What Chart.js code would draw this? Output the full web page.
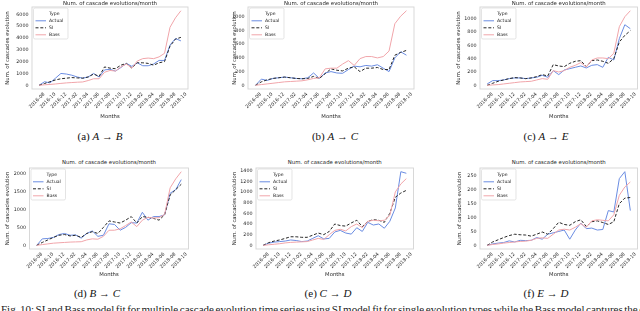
<!DOCTYPE html>
<html lang="en">
<head>
<meta charset="UTF-8" />
<title>Num. of cascade evolutions/month</title>
<script src="https://cdn.jsdelivr.net/npm/chart.js"></script>
<style>
  body { margin: 0; width: 640px; height: 311px; overflow: hidden; background: #fff; position: relative; }
  canvas { position: absolute; }
  .title { position: absolute; text-align: center; font-family: "DejaVu Sans"; font-size: 5.4px; line-height: 6px; color: #262626; white-space: nowrap; }
  .caption { position: absolute; font-family: "Liberation Serif", serif; font-size: 11px; line-height: 12px; white-space: nowrap; transform: translateX(-50%); color: #111; }
  .figtext { position: absolute; left: 1px; top: 303px; font-family: "Liberation Serif", serif; font-size: 11px; line-height: 12px; white-space: nowrap; color: #222; }
</style>
</head>
<body>
<div class="figtext" id="figtext">Fig. 10: SI and Bass model fit for multiple cascade evolution time series using SI model fit for single evolution types while the Bass model captures the d</div>

<script>
  // months of the series (2016-08 .. 2018-10), labelled every other month
  const months = ['2016-08', '2016-09', '2016-10', '2016-11', '2016-12', '2017-01', '2017-02', '2017-03', '2017-04',
    '2017-05', '2017-06', '2017-07', '2017-08', '2017-09', '2017-10', '2017-11', '2017-12', '2018-01', '2018-02',
    '2018-03', '2018-04', '2018-05', '2018-06', '2018-07', '2018-08', '2018-09', '2018-10'];
  const seriesNames = ['Actual', 'SI', 'Bass'];
  const legendTitle = 'Type';

  // (a) A -> B
  const abActual = [0, 300, 200, 600, 1000, 950, 850, 700, 600, 700, 1000, 700, 1300, 1350, 1200, 1500, 1850, 1600, 1900, 1650, 1650, 1800, 2100, 2100, 3400, 3950, 3750];
  const abSI = [0, 150, 300, 450, 550, 600, 650, 620, 600, 700, 950, 750, 1550, 1450, 1400, 1700, 1850, 1450, 1900, 1900, 1850, 1700, 1900, 2000, 3300, 3900, 4050];
  const abBass = [0, 40, 70, 110, 160, 200, 230, 260, 280, 400, 550, 550, 1100, 1250, 1200, 1550, 1800, 1450, 2050, 2250, 2300, 2250, 2400, 2700, 4900, 5700, 6300];

  // (b) A -> C
  const acActual = [0, 90, 70, 100, 110, 120, 110, 100, 95, 110, 180, 100, 180, 200, 180, 175, 230, 280, 270, 290, 280, 300, 250, 200, 400, 490, 440];
  const acSI = [0, 50, 80, 100, 110, 120, 110, 100, 95, 100, 130, 100, 170, 240, 220, 210, 250, 270, 200, 250, 250, 260, 230, 230, 440, 480, 510];
  const acBass = [0, 10, 20, 30, 40, 50, 55, 60, 65, 80, 100, 110, 240, 250, 250, 310, 360, 290, 390, 420, 420, 400, 420, 500, 900, 1010, 1090];

  // (c) A -> E
  const aeActual = [20, 70, 70, 80, 100, 110, 110, 100, 110, 120, 150, 120, 220, 160, 230, 250, 270, 290, 260, 300, 310, 270, 420, 380, 700, 910, 850];
  const aeSI = [0, 30, 60, 80, 100, 115, 110, 100, 110, 130, 160, 140, 310, 290, 280, 330, 360, 370, 280, 370, 380, 360, 330, 400, 650, 750, 820];
  const aeBass = [0, 5, 10, 20, 30, 40, 50, 55, 60, 80, 100, 90, 220, 200, 220, 270, 300, 340, 275, 380, 410, 410, 400, 480, 880, 1030, 1120];

  // (d) B -> C
  const bcActual = [0, 180, 190, 220, 300, 330, 280, 290, 200, 330, 400, 250, 280, 600, 580, 420, 500, 630, 620, 920, 700, 800, 800, 850, 1450, 1550, 1830];
  const bcSI = [0, 80, 150, 220, 280, 300, 260, 280, 220, 330, 380, 330, 500, 680, 650, 620, 700, 800, 620, 800, 780, 750, 700, 850, 1400, 1550, 1700];
  const bcBass = [0, 20, 40, 60, 70, 80, 90, 95, 100, 150, 180, 170, 250, 420, 420, 460, 550, 650, 520, 700, 780, 760, 770, 860, 1600, 1850, 2050];

  // (e) C -> D
  const cdActual = [0, 40, 60, 70, 80, 100, 90, 70, 80, 130, 180, 120, 130, 250, 280, 230, 210, 330, 260, 430, 380, 400, 320, 450, 700, 1380, 1350];
  const cdSI = [0, 50, 80, 100, 130, 160, 160, 150, 150, 190, 230, 200, 260, 400, 370, 360, 420, 470, 350, 450, 480, 470, 430, 600, 900, 980, 1030];
  const cdBass = [0, 10, 20, 30, 45, 55, 60, 65, 70, 100, 130, 110, 200, 280, 300, 270, 350, 400, 330, 450, 470, 460, 470, 560, 1000, 1150, 1250];

  // (f) E -> D
  const edActual = [0, 5, 8, 10, 16, 12, 18, 17, 18, 28, 22, 40, 45, 50, 55, 22, 55, 80, 60, 62, 55, 57, 125, 120, 240, 265, 125];
  const edSI = [0, 12, 20, 28, 35, 40, 38, 37, 33, 40, 48, 40, 60, 83, 75, 72, 85, 92, 68, 85, 88, 82, 75, 85, 150, 170, 172];
  const edBass = [0, 3, 5, 8, 10, 12, 14, 15, 18, 25, 27, 25, 40, 55, 58, 55, 65, 78, 65, 88, 92, 90, 88, 110, 180, 210, 228];

  const yStep = { ab: 1000, ac: 200, ae: 200, bc: 500, cd: 200, ed: 50 };

  const panels = [
    { key: 'ab', tag: 'a', from: 'A', to: 'B', series: [abActual, abSI, abBass], frame: [32, 7, 188, 89], yLabelX: 8, monthsY: 116, titleY: 3.3, capX: 100, capY: 136 },
    { key: 'ac', tag: 'b', from: 'A', to: 'C', series: [acActual, acSI, acBass], frame: [248, 7, 414, 89], yLabelX: 234.3, monthsY: 116, titleY: 3.3, capX: 335, capY: 136 },
    { key: 'ae', tag: 'c', from: 'A', to: 'E', series: [aeActual, aeSI, aeBass], frame: [480, 7, 637.5, 89], yLabelX: 458.3, monthsY: 116, titleY: 3.3, capX: 546, capY: 136 },
    { key: 'bc', tag: 'd', from: 'B', to: 'C', series: [bcActual, bcSI, bcBass], frame: [29.5, 168, 188.5, 249], yLabelX: 7.5, monthsY: 274.3, titleY: 161.7, capX: 97, capY: 293 },
    { key: 'cd', tag: 'e', from: 'C', to: 'D', series: [cdActual, cdSI, cdBass], frame: [256, 168, 413.5, 249], yLabelX: 234.3, monthsY: 274.3, titleY: 161.7, capX: 328, capY: 293 },
    { key: 'ed', tag: 'f', from: 'E', to: 'D', series: [edActual, edSI, edBass], frame: [480, 168, 637.5, 249], yLabelX: 460, monthsY: 274.3, titleY: 161.7, capX: 546, capY: 293 }
  ];

  const styles = [
    { borderColor: '#6a8ce2', borderDash: [], order: 3 },
    { borderColor: '#262626', borderDash: [3, 1.8], order: 2 },
    { borderColor: '#f1a5aa', borderDash: [], order: 1 }
  ];

  const txt = '#262626';
  const tickFont = { family: 'DejaVu Sans', size: 4.8 };
  const labelFont = { family: 'DejaVu Sans', size: 5.3 };

  // light grey box round the plot area
  const framePlugin = {
    id: 'frame',
    beforeDatasetsDraw(chart) {
      const { ctx, chartArea: a } = chart;
      ctx.save();
      ctx.strokeStyle = '#d4d4d4';
      ctx.lineWidth = 0.9;
      ctx.strokeRect(a.left, a.top, a.right - a.left, a.bottom - a.top);
      ctx.restore();
    }
  };

  // seaborn-like legend: "Type" header then one row per series
  const boxLegend = {
    id: 'boxLegend',
    afterDatasetsDraw(chart) {
      const { ctx, chartArea: a } = chart;
      const x = a.left + 1.5, y = a.top + 1, w = 34.5, h = 31, row = 7;
      ctx.save();
      ctx.beginPath();
      ctx.roundRect(x, y, w, h, 1.5);
      ctx.fillStyle = 'rgba(255,255,255,0.85)';
      ctx.fill();
      ctx.strokeStyle = '#d8d8d8';
      ctx.lineWidth = 0.7;
      ctx.stroke();
      ctx.font = '4.6px "DejaVu Sans"';
      ctx.textBaseline = 'middle';
      ctx.fillStyle = txt;
      ctx.fillText(legendTitle, x + 15.5, y + 5.8);
      chart.data.datasets.forEach((ds, i) => {
        const cy = y + 5.8 + row * (i + 1);
        ctx.beginPath();
        ctx.setLineDash(ds.borderDash || []);
        ctx.strokeStyle = ds.borderColor;
        ctx.lineWidth = ds.borderWidth;
        ctx.moveTo(x + 2, cy);
        ctx.lineTo(x + 12.5, cy);
        ctx.stroke();
        ctx.setLineDash([]);
        ctx.fillText(ds.label, x + 15.5, cy);
      });
      ctx.restore();
    }
  };

  panels.forEach(p => {
    const [l, t, r, b] = p.frame;
    const cl = Math.floor(p.yLabelX - 3.2), ct = Math.floor(t - 2);
    const cw = Math.ceil(r + 2 - cl), ch = Math.ceil(p.monthsY + 3.2 - ct);
    const yw = l - cl, padTop = t - ct, padRight = cl + cw - r, xh = ct + ch - b;

    const canvas = document.createElement('canvas');
    canvas.width = cw;
    canvas.height = ch;
    canvas.style.left = cl + 'px';
    canvas.style.top = ct + 'px';
    document.body.appendChild(canvas);

    const all = p.series.flat();
    const lo = Math.min(...all), hi = Math.max(...all);
    const span = hi - lo;
    const step = yStep[p.key];

    new Chart(canvas, {
      type: 'line',
      data: {
        datasets: p.series.map((vals, i) => ({
          label: seriesNames[i],
          data: vals.map((v, k) => ({ x: k, y: v })),
          borderColor: styles[i].borderColor,
          borderDash: styles[i].borderDash,
          order: styles[i].order,
          borderWidth: 1,
          pointRadius: 0,
          tension: 0,
          fill: false
        }))
      },
      options: {
        responsive: false,
        animation: false,
        devicePixelRatio: 1,
        layout: { padding: { top: padTop, right: padRight, left: 0, bottom: 0 } },
        plugins: { legend: { display: false }, tooltip: { enabled: false } },
        scales: {
          x: {
            type: 'linear',
            min: -0.05 * (months.length - 1),
            max: (months.length - 1) * 1.05,
            grid: { display: false, drawTicks: false },
            border: { display: false },
            ticks: {
              autoSkip: false, minRotation: 45, maxRotation: 45, padding: 2.5, labelOffset: 5,
              font: tickFont, color: txt,
              callback: v => months[v]
            },
            afterBuildTicks: s => { s.ticks = months.map((m, i) => ({ value: i })).filter(tk => tk.value % 2 === 0); },
            afterFit: s => { s.height = xh; s.paddingLeft = 0; s.paddingRight = 0; },
            title: { display: true, text: 'Months', font: labelFont, color: txt, padding: 0 }
          },
          y: {
            min: lo - 0.05 * span,
            max: hi + 0.05 * span,
            grid: { display: false, drawTicks: false },
            border: { display: false },
            ticks: { padding: 3.5, font: tickFont, color: txt, callback: v => String(v) },
            afterBuildTicks: s => {
              const tk = [];
              for (let v = 0; v <= s.max; v += step) tk.push({ value: v });
              s.ticks = tk;
            },
            afterFit: s => { s.width = yw; s.paddingTop = 0; s.paddingBottom = 0; },
            title: { display: true, text: 'Num. of cascades evolution', font: labelFont, color: txt, padding: 0 }
          }
        }
      },
      plugins: [framePlugin, boxLegend]
    });

    const title = document.createElement('div');
    title.className = 'title';
    title.textContent = 'Num. of cascade evolutions/month';
    title.style.left = l + 'px';
    title.style.width = (r - l) + 'px';
    title.style.top = (p.titleY - 3) + 'px';
    document.body.appendChild(title);

    const cap = document.createElement('div');
    cap.className = 'caption';
    cap.innerHTML = '(' + p.tag + ') <i>' + p.from + '</i> \u2192 <i>' + p.to + '</i>';
    cap.style.left = p.capX + 'px';
    cap.style.top = (p.capY - 6) + 'px';
    document.body.appendChild(cap);
  });

  // stretch the cut-off figure caption line across the page
  const fig = document.getElementById('figtext');
  const spaces = fig.textContent.split(' ').length - 1;
  fig.style.wordSpacing = ((644 - fig.scrollWidth) / spaces) + 'px';
</script>
</body>
</html>
